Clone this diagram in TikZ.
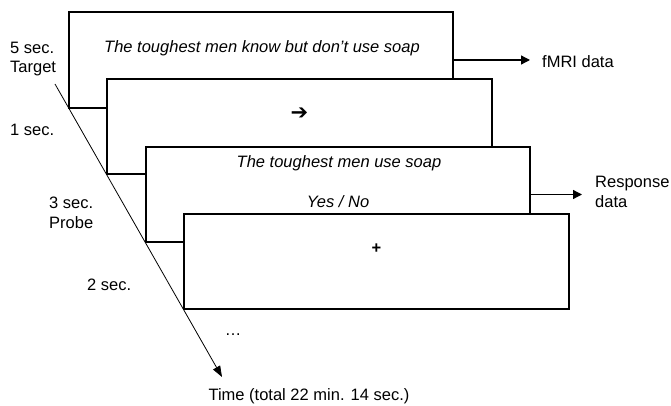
\documentclass[tikz,border=0pt]{standalone}
\usepackage{fontspec}
\setmainfont{Liberation Sans}
\newfontfamily\dejavu{DejaVu Sans}
\usetikzlibrary{arrows.meta}
\begin{document}
\begin{tikzpicture}[x=1pt,y=-1pt,
  every node/.style={font=\fontsize{16.5}{19.5}\selectfont, inner sep=0pt},
  trial/.style={draw, line width=1.6pt, fill=white, minimum width=384.5pt, minimum height=95.5pt},
  lbl/.style={anchor=west, align=left},
  stim/.style={font=\fontsize{16.5}{19.5}\selectfont\itshape},
  arr/.style={line width=1.3pt, -{Triangle[length=9pt,width=9pt]}},
  timearr/.style={line width=0.8pt, -{Triangle[length=11pt,width=8pt]}}]
\useasboundingbox (0,0) rectangle (671,406);
\coordinate (t0) at (55,84);
\coordinate (tend) at (222,377);
\draw[timearr] (t0) -- (tend);
\node[trial] (b1) at (261,60) {};
\node[trial] (b2) at (299.5,126.5) {};
\node[trial] (b3) at (338,194.5) {};
\node[trial] (b4) at (376.5,261.5) {};
\node[stim] (s1) at (262,48) {The toughest men know but don’t use soap};
\node[font=\fontsize{21}{24}\selectfont\dejavu] (s2) at (299.5,114) {➔};
\node[stim] (s3) at (339,163) {The toughest men use soap};
\node[stim] (s4) at (338,202) {Yes / No};
\node[font=\fontsize{16.5}{19.5}\selectfont\bfseries] (s5) at (376.5,249) {+};
\node[lbl] (l1) at (10,59) {5 sec.\\Target};
\node[lbl] (l2) at (10,130) {1 sec.};
\node[lbl] (l3) at (49,213) {3 sec.\\Probe};
\node[lbl] (l4) at (87,285) {2 sec.};
\node (dots) at (233,335) {…};
\node (time) at (309,396) {Time (total 22 min. 14 sec.)};
\node[lbl] (fmri) at (542,62) {fMRI data};
\node[lbl] (resp) at (595,192) {Response\\data};
\draw[arr] (b1.east) -- ([xshift=-12pt]b1.east -| fmri.west);
\draw[arr] (b3.east) -- ([xshift=-13pt]b3.east -| resp.west);
\end{tikzpicture}
\end{document}
